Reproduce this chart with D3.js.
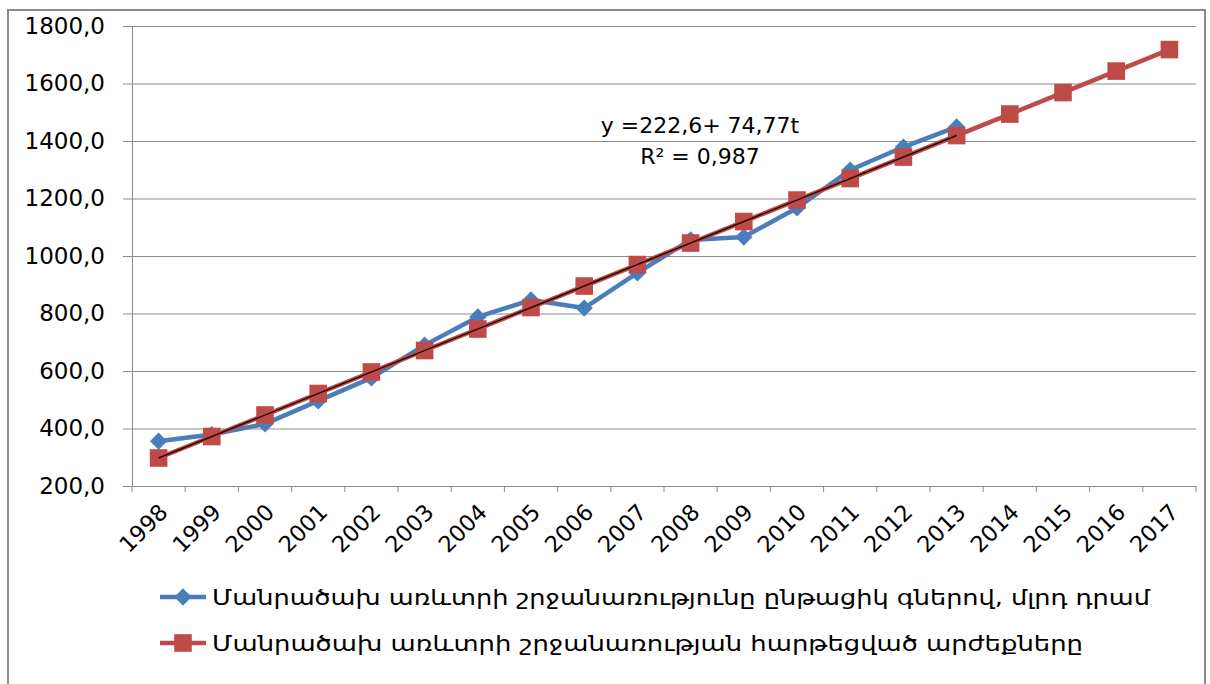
<!DOCTYPE html>
<html><head><meta charset="utf-8">
<script src="https://cdn.jsdelivr.net/npm/d3@7"></script>
<style>body{margin:0;background:#fff}svg{display:block}text{font-family:"DejaVu Sans",sans-serif;fill:#000}</style>
</head><body><svg id="c" width="1210" height="684"></svg>
<script>
const years = ["1998","1999","2000","2001","2002","2003","2004","2005","2006","2007","2008","2009","2010","2011","2012","2013","2014","2015","2016","2017"];
const actualYears = years.slice(0,16);
const actual = [356,379,416,496,576,690,788,847,819,941,1056,1066,1167,1299,1379,1449];
const fitted = [297.4,372.1,446.9,521.7,596.5,671.2,746.0,820.8,895.5,970.3,1045.1,1119.8,1194.6,1269.4,1344.2,1418.9,1493.7,1568.5,1643.2,1718.0];
const trendYears = ["1998","2013"];
const trendValues = [297.4,1418.9];
const yTicks = [200,400,600,800,1000,1200,1400,1600,1800];
const seriesNames = ["Մանրածախ առևտրի շրջանառությունը ընթացիկ գներով, մլրդ դրամ","Մանրածախ առևտրի շրջանառության հարթեցված  արժեքները"];
const eqLines = ["y =222,6+ 74,77t","R² = 0,987"];
const blue="#4A7EBB", red="#BE4B48", grid="#8C8C8C";

const svg=d3.select("#c");
svg.append("rect").attr("x",8).attr("y",10).attr("width",1197).attr("height",700).attr("fill","none").attr("stroke","#8a8a8a").attr("stroke-width",2);

const x=d3.scaleBand().domain(years).range([132,1196]);
const y=d3.scaleLinear().domain([200,1800]).range([486,26]);
const cx=d=>x(d)+x.bandwidth()/2;

// gridlines + y axis
const ya=svg.append("g").attr("transform","translate(132,0)").call(d3.axisLeft(y).tickValues(yTicks).tickSize(-1064).tickSizeOuter(0).tickPadding(27).tickFormat(d=>d3.format(".1f")(d).replace(".",",")));
ya.select(".domain").attr("stroke",grid);
ya.selectAll(".tick line").attr("stroke",grid).attr("x1",-9);
ya.selectAll(".tick text").attr("font-size",23).attr("font-family","DejaVu Sans");

// x axis
const xa=svg.append("g").attr("transform","translate(0,486)").call(d3.axisBottom(x).tickSize(0).tickPadding(0));
xa.select(".domain").attr("stroke",grid);
const bounds=years.map(d=>x(d)).concat([1196]);
xa.selectAll(".bt").data(bounds).enter().append("line").attr("x1",d=>d).attr("x2",d=>d).attr("y1",0).attr("y2",6).attr("stroke",grid);
xa.selectAll(".tick text").attr("font-size",22.5).attr("font-family","DejaVu Sans").attr("text-anchor","end")
  .attr("transform","translate(5,22) rotate(-45)").attr("dy","0.35em").attr("y",0).attr("x",0);

// series lines
const lineA=d3.line().x((d,i)=>cx(actualYears[i])).y(d=>y(d));
const lineF=d3.line().x((d,i)=>cx(years[i])).y(d=>y(d));
svg.append("path").attr("d",lineA(actual)).attr("fill","none").attr("stroke",blue).attr("stroke-width",4.5).attr("stroke-linejoin","round");
svg.append("path").attr("d",lineF(fitted)).attr("fill","none").attr("stroke",red).attr("stroke-width",4.5).attr("stroke-linejoin","round");
const dia=d3.symbol().type(d3.symbolDiamond2).size(190);
svg.selectAll(".dm").data(actual).enter().append("path").attr("d",dia).attr("fill",blue)
  .attr("transform",(d,i)=>`translate(${cx(actualYears[i])},${y(d)})`);
const sq=d3.symbol().type(d3.symbolSquare).size(310);
svg.selectAll(".sq").data(fitted).enter().append("path").attr("d",sq).attr("fill",red)
  .attr("transform",(d,i)=>`translate(${cx(years[i])},${y(d)})`);
// trendline
svg.append("line").attr("x1",cx(trendYears[0])).attr("y1",y(trendValues[0])).attr("x2",cx(trendYears[1])).attr("y2",y(trendValues[1]))
  .attr("stroke","#2a0808").attr("stroke-width",1.5);

// equation
svg.selectAll(".eq").data(eqLines).enter().append("text").attr("x",700).attr("y",(d,i)=>133+i*31).attr("text-anchor","middle").attr("font-size",22).text(d=>d);

// legend
const lg=svg.append("g");
[[blue,"d"],[red,"s"]].forEach((c,i)=>{
  const ly=597+i*46;
  lg.append("line").attr("x1",160).attr("x2",206).attr("y1",ly).attr("y2",ly).attr("stroke",c[0]).attr("stroke-width",4.5);
  lg.append("path").attr("d",c[1]=="d"?dia():sq()).attr("fill",c[0]).attr("transform",`translate(183,${ly})`);
  lg.append("text").attr("x",212).attr("y",ly).attr("dy","0.35em").attr("font-size",22)
    .attr("textLength",i==0?938:871).attr("lengthAdjust","spacingAndGlyphs").text(seriesNames[i]);
});
</script></body></html>
